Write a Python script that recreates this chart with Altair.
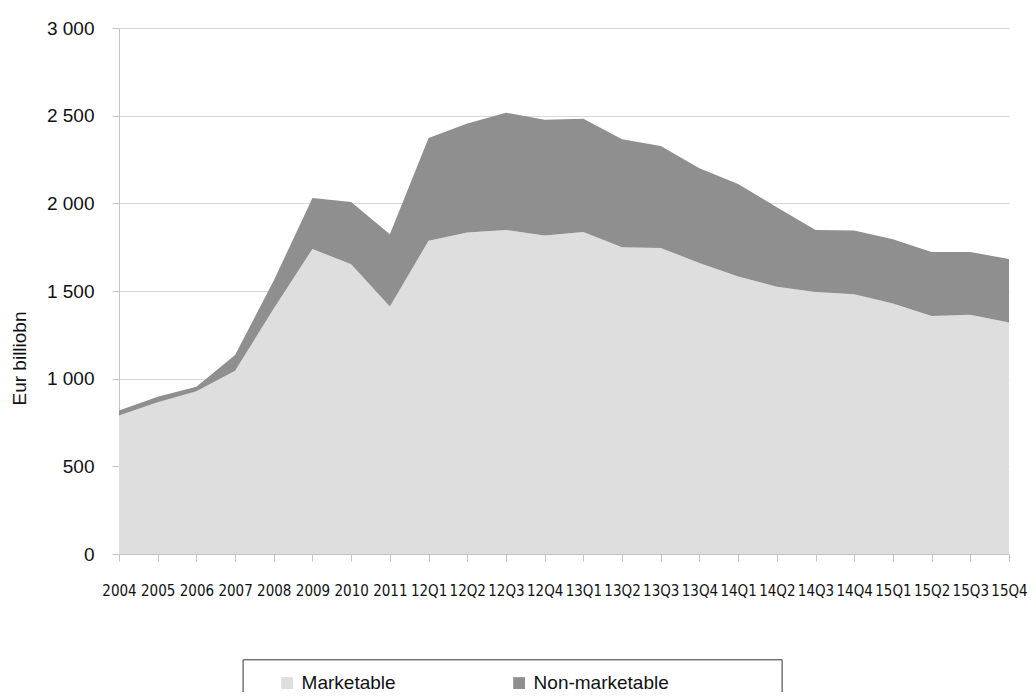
import altair as alt
import pandas as pd

categories = ["2004", "2005", "2006", "2007", "2008", "2009", "2010", "2011",
              "12Q1", "12Q2", "12Q3", "12Q4", "13Q1", "13Q2", "13Q3", "13Q4",
              "14Q1", "14Q2", "14Q3", "14Q4", "15Q1", "15Q2", "15Q3", "15Q4"]
marketable = [790, 865, 928, 1045, 1400, 1740, 1652, 1411, 1787, 1833, 1848, 1817,
              1836, 1750, 1745, 1660, 1583, 1524, 1494, 1481, 1428, 1357, 1364, 1320]
non_marketable = [28, 32, 26, 90, 160, 290, 356, 412, 585, 623, 669, 660,
                  646, 615, 582, 540, 527, 454, 354, 364, 367, 365, 358, 363]
series_names = ["Marketable", "Non-marketable"]
series_colors = ["#dedede", "#8f8f8f"]
y_ticks = [0, 500, 1000, 1500, 2000, 2500, 3000]

rows = []
for i, c in enumerate(categories):
    rows.append({"period": c, "series": series_names[0], "value": marketable[i], "order": 0})
    rows.append({"period": c, "series": series_names[1], "value": non_marketable[i], "order": 1})
df = pd.DataFrame(rows)

NB = "\u00a0"
BLANK = "\u2800"
label_expr = "datum.label == 'Non-marketable' ? datum.label + '" + BLANK * 7 + "' : datum.label"

chart = alt.Chart(df).mark_area(opacity=1).encode(
    x=alt.X("period:N", sort=categories,
            scale=alt.Scale(type="point", padding=0),
            axis=alt.Axis(title=None, labelAngle=0, labelOverlap=False,
                          labelFont="DejaVu Sans Condensed, Liberation Sans Narrow, Liberation Sans",
                          labelFontSize=15,
                          labelColor="#111111", labelPadding=22, tickSize=7,
                          tickColor="#c4c4c4", domainColor="#c4c4c4", grid=False,
                          zindex=1)),
    y=alt.Y("value:Q", stack="zero",
            scale=alt.Scale(domain=[0, 3000], nice=False),
            axis=alt.Axis(values=y_ticks,
                          labelExpr="replace(format(datum.value, ','), ',', ' ')",
                          labelFont="Liberation Sans", labelFontSize=19,
                          labelColor="#111111", labelPadding=18, tickSize=7,
                          tickColor="#c4c4c4", domainColor="#c4c4c4",
                          gridColor="#d9d9d9", grid=True,
                          title="Eur billiobn", titleFont="Liberation Sans",
                          titleFontSize=19, titleFontWeight="normal",
                          titleColor="#111111", titleAngle=270, titleX=-94,
                          titleY=330, titleAlign="center",
                          titleBaseline="alphabetic")),
    color=alt.Color("series:N",
                    scale=alt.Scale(domain=series_names, range=series_colors),
                    legend=alt.Legend(orient="none", legendX=123.6, legendY=631.3,
                                      direction="horizontal", columns=2,
                                      title=NB, titleOrient="left",
                                      titlePadding=21, titleFontSize=19,
                                      padding=14, strokeColor="#333333",
                                      fillColor="#ffffff", symbolType="square",
                                      symbolSize=140, symbolStrokeWidth=0,
                                      labelOffset=5, labelFontSize=19,
                                      labelFont="Liberation Sans",
                                      labelColor="#111111", labelLimit=400,
                                      columnPadding=114, labelExpr=label_expr)),
    order=alt.Order("order:Q"),
).properties(
    width=890, height=526,
    autosize=alt.AutoSizeParams(type="none"),
    padding={"left": 111, "top": 20, "right": 19, "bottom": 138},
    background="#ffffff",
).configure_view(stroke=None)

chart.save("out.html", embed_options={"renderer": "svg", "actions": False})
